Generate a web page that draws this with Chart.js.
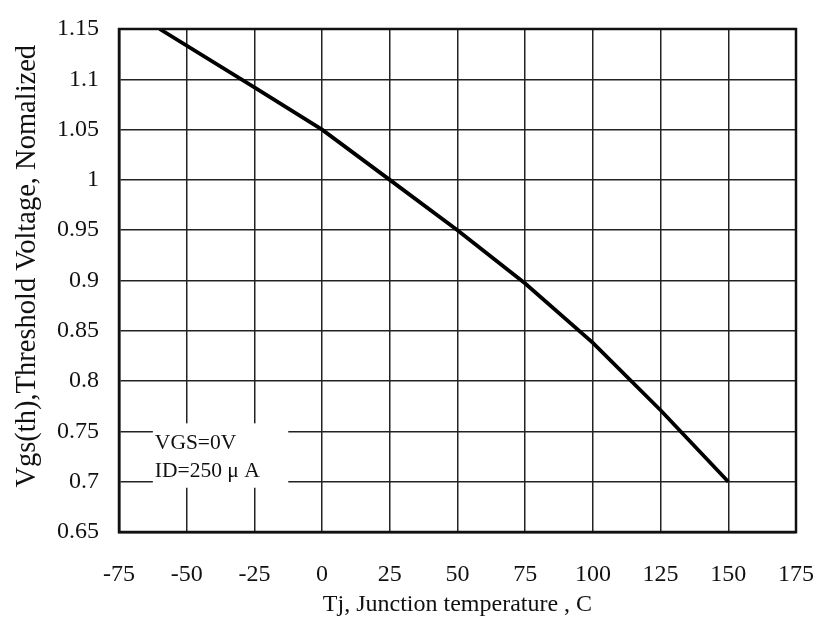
<!DOCTYPE html>
<html>
<head>
<meta charset="utf-8">
<script src="https://cdn.jsdelivr.net/npm/chart.js@4.4.1/dist/chart.umd.min.js"></script>
<style>
  html, body { margin: 0; padding: 0; background: #fff; }
  #wrap { width: 820px; height: 619px; }
</style>
</head>
<body>
<div id="wrap"><canvas id="c" width="820" height="619"></canvas></div>
<script>
// Data
const temperatures = [-60, -25, 0, 25, 50, 75, 100, 125, 150];
const thresholdNorm = [1.15, 1.092, 1.05, 1.0, 0.95, 0.897, 0.838, 0.771, 0.70];
const xTicks = [-75, -50, -25, 0, 25, 50, 75, 100, 125, 150, 175];
const yTicks = [0.65, 0.7, 0.75, 0.8, 0.85, 0.9, 0.95, 1, 1.05, 1.1, 1.15];
const noteLines = ['VGS=0V', 'ID=250 \u03BC A'];
// annotation box in data units: [xMin, xMax, yMin, yMax]
const noteBox = [-62.5, -12.5, 0.694, 0.758];

const serif = '"Liberation Serif", "Times New Roman", serif';

const notePlugin = {
  id: 'note',
  beforeDatasetsDraw(chart) {
    const { ctx, scales: { x, y } } = chart;
    const l = x.getPixelForValue(noteBox[0]);
    const r = x.getPixelForValue(noteBox[1]);
    const t = y.getPixelForValue(noteBox[3]);
    const b = y.getPixelForValue(noteBox[2]);
    ctx.save();
    ctx.fillStyle = '#fff';
    ctx.fillRect(l, t, r - l, b - t);
    ctx.fillStyle = '#111';
    ctx.font = '21.5px ' + serif;
    ctx.textBaseline = 'middle';
    ctx.textAlign = 'left';
    ctx.fillText(noteLines[0], l + 2, t + 20);
    ctx.fillText(noteLines[1], l + 2, t + 48);
    ctx.restore();
  },
  afterDraw(chart) {
    const { ctx, chartArea: a } = chart;
    ctx.save();
    ctx.strokeStyle = '#111';
    ctx.lineWidth = 2.5;
    ctx.strokeRect(a.left, a.top, a.right - a.left, a.bottom - a.top);
    ctx.restore();
  }
};

new Chart(document.getElementById('c'), {
  type: 'line',
  data: {
    datasets: [{
      data: temperatures.map((t, i) => ({ x: t, y: thresholdNorm[i] })),
      borderColor: '#000',
      borderWidth: 3.8,
      pointRadius: 0,
      tension: 0,
      fill: false
    }]
  },
  options: {
    responsive: false,
    animation: false,
    devicePixelRatio: 1,
    layout: { padding: { left: 0, right: 24, top: 29, bottom: 0 } },
    plugins: { legend: { display: false }, tooltip: { enabled: false } },
    scales: {
      x: {
        type: 'linear',
        min: -75, max: 175,
        afterBuildTicks: s => { s.ticks = xTicks.map(v => ({ value: v })); },
        afterFit: s => { s.height = 87; s.paddingLeft = 0; s.paddingRight = 0; },
        grid: { color: '#222', lineWidth: 1.5, drawTicks: false },
        border: { display: true, color: '#111', width: 2.5 },
        ticks: { color: '#111', font: { family: serif, size: 24 }, padding: 28, maxRotation: 0, autoSkip: false },
        title: { display: true, text: 'Tj, Junction temperature , C', color: '#111', font: { family: serif, size: 24 }, padding: { top: 0, bottom: 0 } }
      },
      y: {
        type: 'linear',
        min: 0.65, max: 1.15,
        afterBuildTicks: s => { s.ticks = yTicks.map(v => ({ value: v })); },
        afterFit: s => { s.width = 119; s.paddingTop = 0; s.paddingBottom = 0; },
        grid: { color: '#222', lineWidth: 1.5, drawTicks: false },
        border: { display: true, color: '#111', width: 2.5 },
        ticks: { color: '#111', font: { family: serif, size: 24 }, padding: 20, autoSkip: false,
          callback: v => String(Math.round(v * 100) / 100) },
        title: { display: true, text: '    Vgs(th),Threshold Voltage, Nomalized', color: '#111', font: { family: serif, size: 28.5 }, padding: { top: 10, bottom: 4 } }
      }
    }
  },
  plugins: [notePlugin]
});
</script>
</body>
</html>
